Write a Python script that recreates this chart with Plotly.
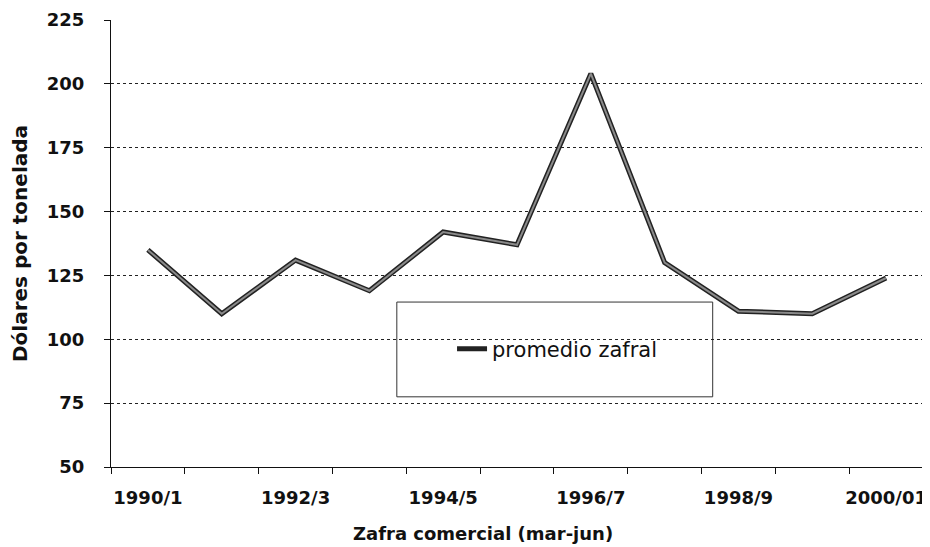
import plotly.graph_objects as go

categories = ["1990/1", "1991/2", "1992/3", "1993/4", "1994/5", "1995/6",
              "1996/7", "1997/8", "1998/9", "1999/00", "2000/01"]
promedio_zafral = [135, 110, 131, 119, 142, 137, 204, 130, 111, 110, 124]
shown_labels = [c if i % 2 == 0 else "" for i, c in enumerate(categories)]
y_ticks = [50, 75, 100, 125, 150, 175, 200, 225]
y_grid = [75, 100, 125, 150, 175, 200]

fig = go.Figure()
# dark outline of the line (carries the legend entry)
fig.add_trace(go.Scatter(x=categories, y=promedio_zafral, mode="lines",
                         name="promedio zafral",
                         line=dict(color="#222222", width=5)))
# grey core of the line
fig.add_trace(go.Scatter(x=categories, y=promedio_zafral, mode="lines",
                         line=dict(color="#8a8a8a", width=2),
                         showlegend=False, hoverinfo="skip"))

fig.add_shape(type="rect", xref="paper", yref="paper",
              x0=0.352, x1=0.741, y0=0.157, y1=0.369,
              line=dict(color="#333333", width=1), fillcolor="white",
              layer="between")

fig.add_annotation(text="Zafra comercial (mar-jun)", xref="paper", yref="paper",
                   x=0.458, y=-0.148, showarrow=False, xanchor="center", yanchor="middle",
                   font=dict(family="DejaVu Sans", size=18, color="#111111", weight="bold"))

fig.update_layout(
    width=922, height=539,
    margin=dict(l=103, r=7, t=12, b=80),
    paper_bgcolor="white", plot_bgcolor="white",
    font=dict(family="DejaVu Sans", color="#111111"),
    legend=dict(x=0.420, y=0.264, xanchor="left", yanchor="middle",
                bgcolor="rgba(0,0,0,0)", borderwidth=0,
                font=dict(family="DejaVu Sans", size=21, color="#111111")),
    xaxis=dict(type="category", tickmode="array", tickvals=categories, ticktext=shown_labels,
               tickson="boundaries", ticks="outside", ticklen=6, tickcolor="#111111",
               showline=True, linecolor="#111111", linewidth=1.2, showgrid=False,
               ticklabelstandoff=14, tickangle=0, automargin=False,
               range=[-0.5, len(categories) - 0.5],
               tickfont=dict(family="DejaVu Sans", size=18, color="#111111", weight="bold")),
    yaxis=dict(range=[50, 225], tickmode="array", tickvals=y_ticks,
               ticks="outside", ticklen=6, tickcolor="#111111",
               showline=True, linecolor="#111111", linewidth=1.2,
               showgrid=False, zeroline=False, ticklabelstandoff=16, automargin=False,
               tickfont=dict(family="DejaVu Sans", size=18, color="#111111", weight="bold"),
               minor=dict(tickmode="array", tickvals=y_grid, showgrid=True,
                          gridcolor="#222222", griddash="dot", gridwidth=1, ticks=""),
               title=dict(text="Dólares por tonelada", standoff=20,
                          font=dict(family="DejaVu Sans", size=20, color="#111111", weight="bold"))),
)

fig.write_html("out.html")
